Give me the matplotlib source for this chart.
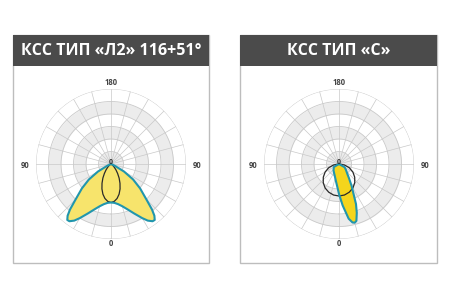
import numpy as np
import matplotlib
matplotlib.use("Agg")
import matplotlib.pyplot as plt
from matplotlib.patches import Rectangle

# ---- data (angles in degrees from nadir, + = right side) ----
titles = ["КСС ТИП «Л2» 116+51°", "КСС ТИП «С»"]

# Left chart: batwing (yellow) - symmetric, read for one side
l2_ang = [0, 5, 10, 15, 20, 25, 30, 33, 36, 38, 40, 42, 45, 50, 55, 60, 65, 70, 80, 90]
l2_val = [154, 156, 163, 175, 193, 218, 250, 270, 283, 284, 270, 245, 200, 152, 108, 60, 15, 3, 0, 0]
# Left chart: narrow lobe (black line), symmetric
l2b_ang = [0, 5, 10, 15, 20, 25, 30, 35, 40, 45, 50, 60, 90]
l2b_val = [154, 150, 140, 125, 106, 85, 65, 46, 31, 19, 11, 2, 0]

# Right chart: cosine (black circle)
c_ang = [-90, -80, -70, -60, -50, -40, -30, -20, -10, 0, 10, 20, 30, 40, 50, 60, 70, 80, 90]
c_val = [0, 22, 44, 64, 82, 98, 111, 120, 126, 128, 126, 120, 111, 98, 82, 64, 44, 22, 0]
# Right chart: tilted narrow lobe (yellow)
s_ang = [-90, -60, -40, -30, -20, -10, -5, 0, 5, 10, 13, 15, 17, 20, 23, 26, 30, 35, 40, 50, 60, 90]
s_val = [0, 24, 34, 40, 50, 70, 88, 120, 166, 222, 240, 243, 238, 208, 174, 132, 100, 70, 52, 36, 26, 0]

rings = [50, 100, 150, 200, 250, 300]
bands = [(0, 50), (100, 150), (200, 250)]
labels = {"top": "180", "bottom": "0", "side": "90"}

W, H = 450, 300
fig = plt.figure(figsize=(4.5, 3), dpi=100)
fig.patch.set_facecolor("white")

def fx(x):
    return x / W

def fy(y):
    return 1 - y / H

FONT = ["Open Sans", "DejaVu Sans"]
GRID = "#c9c9c9"
BAND = "#ececec"
TEAL = "#2196ad"

boxes = [(13, 209), (240, 437)]
centers = [(111, 164), (339, 164)]
R = 75
fills = ["#f7e46c", "#f4d51c"]

for i, ((x0, x1), (cx, cy)) in enumerate(zip(boxes, centers)):
    # frame
    fig.add_artist(Rectangle((fx(x0), fy(263)), (x1 - x0) / W, (263 - 35) / H,
                             transform=fig.transFigure, facecolor="white",
                             edgecolor="#bdbdbd", lw=1.0, zorder=0))
    fig.add_artist(Rectangle((fx(x0), fy(66)), (x1 - x0) / W, (66 - 35) / H,
                             transform=fig.transFigure, facecolor="#4b4b4b",
                             edgecolor="none", zorder=1))
    fig.text(fx((x0 + x1) / 2), fy(51), titles[i], color="white", fontsize=11.5,
             fontweight="bold", family=FONT, ha="center", va="center")

    ax = fig.add_axes([fx(cx - R), fy(cy + R), 2 * R / W, 2 * R / H], projection="polar")
    ax.set_theta_zero_location("S")
    ax.set_theta_direction(1)
    ax.set_ylim(0, 300)
    ax.set_xticks([])
    ax.set_yticks([])
    ax.grid(False)
    ax.spines["polar"].set_visible(False)
    ax.patch.set_alpha(0)

    tfull = np.linspace(0, 2 * np.pi, 361)
    for r0, r1 in bands:
        ax.fill_between(tfull, r0, r1, color=BAND, lw=0, zorder=1)
    for r in rings:
        ax.plot(tfull, np.full_like(tfull, r), color=GRID, lw=0.6, zorder=2)
    for a in range(0, 360, 15):
        ax.plot([np.radians(a)] * 2, [0, 300], color=GRID, lw=0.5, zorder=2)

    if i == 0:
        ang = np.radians(np.array([-a for a in l2_ang[::-1]] + l2_ang[1:]))
        val = np.array(l2_val[::-1] + l2_val[1:])
        ax.fill(ang, val, color=fills[0], zorder=3, lw=0)
        ax.plot(np.append(ang, ang[0]), np.append(val, val[0]), color=TEAL, lw=1.5, zorder=5)
        bang = np.radians(np.array([-a for a in l2b_ang[::-1]] + l2b_ang[1:]))
        bval = np.array(l2b_val[::-1] + l2b_val[1:])
        ax.plot(bang, bval, color="#2a2a2a", lw=0.9, zorder=4)
    else:
        ang = np.radians(np.array(s_ang))
        ax.fill(ang, s_val, color=fills[1], zorder=3, lw=0)
        ax.plot(np.append(ang, ang[0]), np.append(s_val, s_val[0]), color=TEAL, lw=1.5, zorder=5)
        ax.plot(np.radians(np.array(c_ang)), c_val, color="#2a2a2a", lw=0.9, zorder=4)

    lab_kw = dict(fontsize=5.5, color="#444444", fontweight="bold", family=FONT,
                  ha="center", va="center")
    fig.text(fx(cx), fy(cy - 81), labels["top"], **lab_kw)
    fig.text(fx(cx), fy(cy + 79), labels["bottom"], **lab_kw)
    fig.text(fx(cx - 86), fy(cy + 2), labels["side"], **lab_kw)
    fig.text(fx(cx + 86), fy(cy + 2), labels["side"], **lab_kw)
    fig.text(fx(cx), fy(cy - 2), "0", fontsize=5, color="#333333", family=FONT,
             fontweight="bold", ha="center", va="center", zorder=10)

fig.savefig("out.png", dpi=100, facecolor="white")
